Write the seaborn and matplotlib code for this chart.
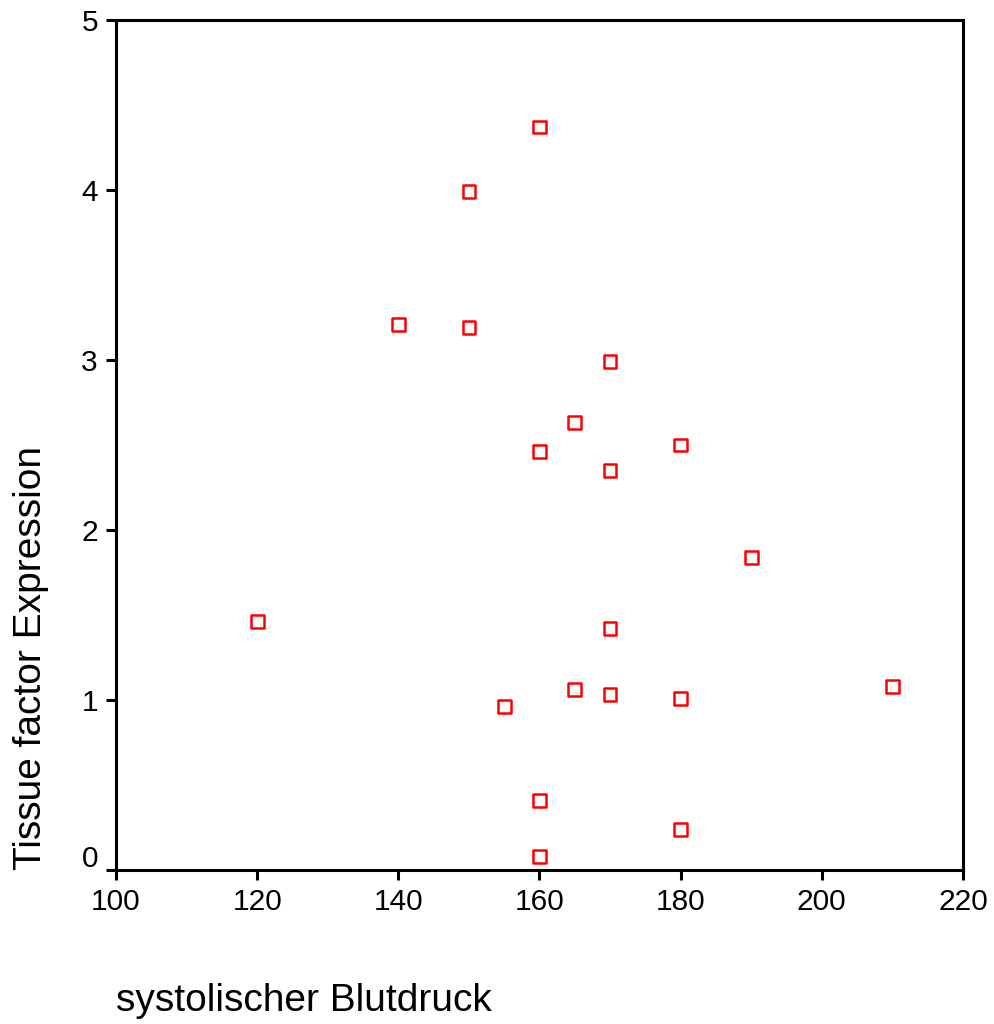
import matplotlib
matplotlib.use("Agg")
import matplotlib.pyplot as plt
import matplotlib.transforms as mtransforms
import seaborn as sns
import pandas as pd

# Systolic blood pressure vs. tissue factor expression
blutdruck = [160, 150, 140, 150, 170, 165, 160, 180, 170, 190,
             120, 170, 165, 170, 180, 155, 210, 160, 180, 160]
tf_expression = [4.37, 3.99, 3.21, 3.19, 2.99, 2.63, 2.46, 2.50, 2.35, 1.84,
                 1.46, 1.42, 1.06, 1.03, 1.01, 0.96, 1.08, 0.41, 0.24, 0.08]
x_ticks = [100, 120, 140, 160, 180, 200, 220]
y_ticks = [0, 1, 2, 3, 4, 5]

df = pd.DataFrame({"bp": blutdruck, "tf": tf_expression})

sns.set_style("white")
plt.rcParams["font.family"] = ["Liberation Sans", "DejaVu Sans"]
plt.rcParams["text.color"] = "black"
plt.rcParams["axes.labelcolor"] = "black"
plt.rcParams["xtick.color"] = "black"
plt.rcParams["ytick.color"] = "black"

fig = plt.figure(figsize=(9.95, 10.24), dpi=100)
ax = fig.add_axes([0.1166, 0.1504, 0.8512, 0.8301])

sns.scatterplot(data=df, x="bp", y="tf", ax=ax, marker="s", s=85,
                facecolor="none", edgecolor="#ff0000", linewidth=1.8)

ax.set_xlim(100, 220)
ax.set_ylim(0, 5)
ax.set_xticks(x_ticks)
ax.set_yticks(y_ticks)
ax.tick_params(axis="both", direction="out", length=7, width=2.2,
               labelsize=21.5, colors="black", pad=6, left=True, bottom=True)
for sp in ax.spines.values():
    sp.set_linewidth(2.2)
    sp.set_color("black")
    sp.set_visible(True)

# lift the "0" label slightly so it clears the x-axis labels
zero_label = ax.get_yticklabels()[0]
zero_label.set_transform(zero_label.get_transform() +
                         mtransforms.ScaledTranslation(0, 14 / 100, fig.dpi_scale_trans))

ax.set_xlabel("systolischer Blutdruck", fontsize=28, loc="left", labelpad=48)
ax.set_ylabel("Tissue factor Expression", fontsize=28, loc="bottom", labelpad=23)

fig.savefig("out.png", dpi=100)
